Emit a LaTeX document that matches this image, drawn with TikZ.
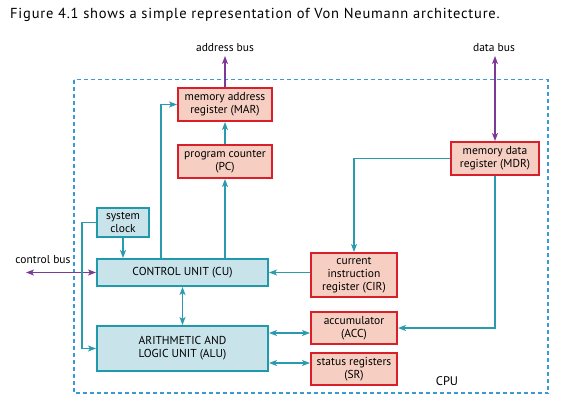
\documentclass[tikz,border=0pt]{standalone}
\usepackage{fontspec}
\setmainfont{PT Sans}
\usepackage{xcolor}
\usetikzlibrary{arrows.meta}
\usetikzlibrary{positioning}

\definecolor{regred}{HTML}{D9202A}
\definecolor{regfill}{HTML}{F6CFC2}
\definecolor{unitteal}{HTML}{1F9AAA}
\definecolor{unitfill}{HTML}{C8E3EA}
\definecolor{wireteal}{HTML}{2A9AAE}
\definecolor{buspurple}{HTML}{7B3A96}
\definecolor{cpublue}{HTML}{3A9AD4}

\begin{document}
\begin{tikzpicture}[x=1pt,y=-1pt,
  reg/.style={draw=regred,fill=regfill,line width=2pt,align=center,inner sep=0pt,font=\fontsize{11.5}{13.3}\selectfont},
  unit/.style={draw=unitteal,fill=unitfill,line width=2pt,align=center,inner sep=0pt,font=\fontsize{11.5}{13.3}\selectfont},
  wire/.style={draw=wireteal,line width=1.1pt,-{Stealth[length=8pt,width=6pt,inset=2pt]}},
  bus/.style={draw=buspurple,line width=1.1pt,-{Stealth[length=8pt,width=6pt,inset=2pt]}},
  lbl/.style={inner sep=0pt,font=\fontsize{11.5}{13.3}\selectfont}]
\useasboundingbox (0,0) rectangle (562,405);

\node[anchor=west,inner sep=0pt,font=\fontsize{14.5}{16}\selectfont\addfontfeatures{LetterSpace=5.5}] (title) at (10,15)
  {Figure 4.1 shows a simple representation of Von Neumann architecture.};

\draw[cpublue,line width=1.5pt,dash pattern=on 4pt off 3pt] (74,79.5) rectangle (548,393);
\node[lbl,font=\fontsize{12.5}{14}\selectfont] (cpu) at (447,381) {CPU};

\node[reg,minimum width=94,minimum height=33] (MAR) at (225,104.5) {memory address\\register (MAR)};
\node[reg,minimum width=94,minimum height=33] (PC) at (225,161.5) {program counter\\(PC)};
\node[reg,minimum width=88,minimum height=33] (MDR) at (495,158.5) {memory data\\register (MDR)};
\node[reg,minimum width=86,minimum height=44] (CIR) at (354,275) {current\\instruction\\register (CIR)};
\node[reg,minimum width=86,minimum height=32] (ACC) at (354,328) {accumulator\\(ACC)};
\node[reg,minimum width=86,minimum height=32] (SR) at (354,369) {status registers\\(SR)};

\node[unit,minimum width=52,minimum height=29] (clock) at (123,222.5) {system\\clock};
\node[unit,minimum width=171,minimum height=27] (CU) at (182.5,272.5) {CONTROL UNIT (CU)};
\node[unit,minimum width=171,minimum height=45] (ALU) at (182.5,348.5) {ARITHMETIC AND\\LOGIC UNIT (ALU)};

\node[lbl] (addrlbl) at (225,48) {address bus};
\node[lbl] (datalbl) at (494,48) {data bus};
\node[lbl] (ctrllbl) at (43,260) {control bus};
\coordinate (addrend) at (225,56);
\coordinate (dataend) at (495,56);
\coordinate (ctrlend) at (26,272.5);

\draw[bus] (MAR.north) -- (addrend);
\draw[bus,{Stealth[length=8pt,width=6pt,inset=2pt]}-{Stealth[length=8pt,width=6pt,inset=2pt]}] (dataend) -- (MDR.north);
\draw[bus,{Stealth[length=8pt,width=6pt,inset=2pt]}-{Stealth[length=8pt,width=6pt,inset=2pt]}] (ctrlend) -- (CU.west);

\draw[wire] (PC.north) -- (MAR.south);
\draw[wire] (PC.south |- CU.north) -- (PC.south);
\draw[wire] ([xshift=-21.5pt]CU.north) |- (MAR.west);
\draw[wire] (clock.south) -- (clock.south |- CU.north);
\draw[wire] (clock.west) -- ++(-14,0) |- (ALU.west);
\draw[wire,{Stealth[length=8pt,width=6pt,inset=2pt]}-{Stealth[length=8pt,width=6pt,inset=2pt]}] (CU.south) -- (ALU.north);
\draw[wire] (CIR.west |- CU.east) -- (CU.east);
\draw[wire] (MDR.west) -| (CIR.north);
\draw[wire] (MDR.south) |- (ACC.east);

\coordinate (accin) at ([yshift=-5pt]ACC.west);
\coordinate (srin) at ([yshift=6pt]SR.west);
\draw[wire,{Stealth[length=8pt,width=6pt,inset=2pt]}-{Stealth[length=8pt,width=6pt,inset=2pt]}] (accin -| ALU.east) -- (accin);
\draw[wire,{Stealth[length=8pt,width=6pt,inset=2pt]}-{Stealth[length=8pt,width=6pt,inset=2pt]}] (srin -| ALU.east) -- (srin);

\end{tikzpicture}
\end{document}
